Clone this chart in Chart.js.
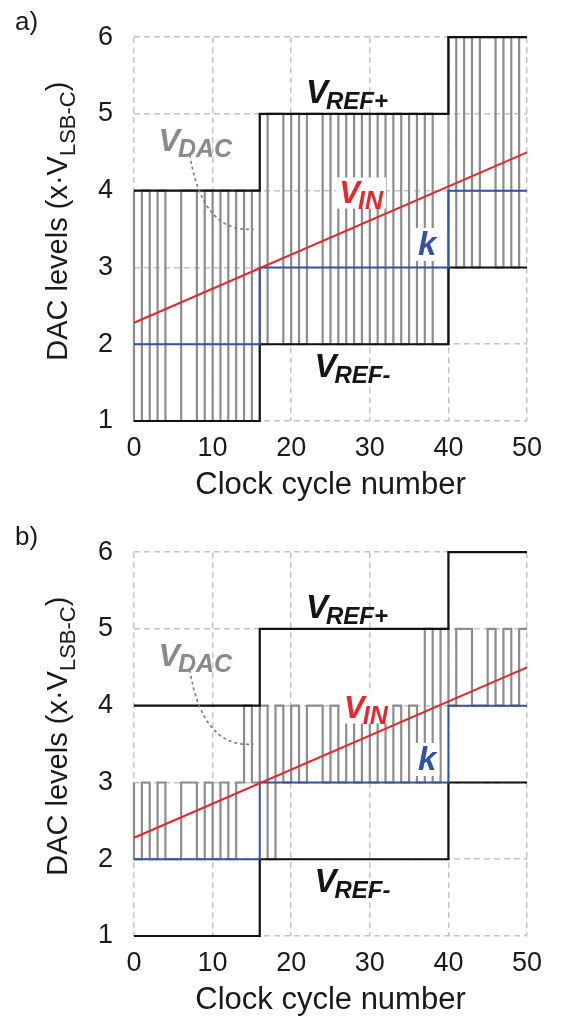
<!DOCTYPE html>
<html>
<head>
<meta charset="utf-8">
<script src="https://cdn.jsdelivr.net/npm/chart.js@4.4.1/dist/chart.umd.min.js"></script>
<style>
  body { margin: 0; background: #fff; overflow: hidden; }
  .panel { position: absolute; left: 0; width: 564px; height: 508px; }
</style>
</head>
<body>
<div class="panel" style="top:0"><canvas id="chartA" width="564" height="508"></canvas></div>
<div class="panel" style="top:515px"><canvas id="chartB" width="564" height="508"></canvas></div>
<script>
// Clock cycles where the reference window moves, and the window levels
const segmentStarts = [0, 16, 40];
const lastCycle = 50;
const refPlusLevels = [4, 5, 6];
const refMinusLevels = [1, 2, 3];
const kLevels = [2, 3, 4];

// Input ramp end points
const vinCycles = [0, 50];
const vinLevels = [2.28, 4.5];

// DAC output after each clock edge 0..50 (index 0 = level before the first edge)
const vdacA = [4, 1, 4, 1, 4, 1, 1, 4, 4, 1, 4, 1, 4, 1, 4, 1, 4,
               2, 5, 5, 2, 5, 2, 5, 5, 2, 5, 2, 5, 2, 5, 2, 5, 2, 5, 2, 5, 2, 5, 2, 2,
               6, 3, 6, 3, 6, 6, 3, 6, 3, 6];
const vdacB = [3, 2, 3, 2, 3, 2, 2, 3, 3, 2, 3, 2, 3, 2, 3, 4, 3,
               4, 2, 4, 3, 4, 3, 4, 4, 3, 4, 3, 4, 3, 4, 3, 4, 3, 4, 3, 4, 3, 5, 3, 5,
               4, 5, 5, 4, 4, 5, 4, 5, 4, 5];

const xTicks = [0, 10, 20, 30, 40, 50];
const yTicks = [1, 2, 3, 4, 5, 6];

const FONT = 'Arial, "Liberation Sans", sans-serif';
const GRAY = "#8c8c8c";
const RED = "#e8262b";
const BLUE = "#3452a4";

// Build points of a staircase from the segment levels
function stairPoints(levels) {
    const pts = segmentStarts.map(function(s, i) { return { x: s, y: levels[i] }; });
    pts.push({ x: lastCycle, y: levels[levels.length - 1] });
    return pts;
}

// Draw a label like V with a subscript, centered at a data position
function drawSubLabel(chart, xv, yv, main, sub, color, mainPx, subPx, bg) {
    const ctx = chart.ctx;
    const cx = chart.scales.x.getPixelForValue(xv);
    const cy = chart.scales.y.getPixelForValue(yv);
    const mainFont = "italic bold " + mainPx + "px " + FONT;
    const subFont = "italic bold " + subPx + "px " + FONT;
    ctx.save();
    ctx.font = mainFont;
    const wMain = ctx.measureText(main).width;
    ctx.font = subFont;
    const wSub = sub ? ctx.measureText(sub).width : 0;
    const total = wMain + wSub - (sub ? 2 : 0);
    const x0 = cx - total / 2;
    const base = cy + mainPx * 0.33;
    if (bg) {
        ctx.fillStyle = "#fff";
        ctx.fillRect(x0 - 3, cy - mainPx * 0.5, total + 6, mainPx * 1.0);
    }
    ctx.fillStyle = color;
    ctx.textBaseline = "alphabetic";
    ctx.textAlign = "left";
    ctx.font = mainFont;
    ctx.fillText(main, x0, base);
    if (sub) {
        ctx.font = subFont;
        ctx.fillText(sub, x0 + wMain - 2, base + mainPx * 0.2);
    }
    ctx.restore();
}

const annotations = {
    id: "annotations",
    afterDatasetsDraw(chart, args, opts) {
        const ctx = chart.ctx;
        const xs = chart.scales.x, ys = chart.scales.y;
        const p = function(x, y) { return [xs.getPixelForValue(x), ys.getPixelForValue(y)]; };

        // dashed pointer from the V_DAC label to the waveform
        const a = p(7.1, 4.47), c = p(8.7, 3.44), b = p(15.2, 3.5);
        ctx.save();
        ctx.strokeStyle = "#7a7a7a";
        ctx.lineWidth = 1.6;
        ctx.setLineDash([3, 3]);
        ctx.beginPath();
        ctx.moveTo(a[0], a[1]);
        ctx.quadraticCurveTo(c[0], c[1], b[0], b[1]);
        ctx.stroke();
        ctx.restore();

        drawSubLabel(chart, 7.8, 4.66, "V", "DAC", "#8a8a8a", 32, 25, false);
        drawSubLabel(chart, 27.1, 5.29, "V", "REF+", "#151515", 33, 24, false);
        drawSubLabel(chart, 27.8, 1.72, "V", "REF-", "#151515", 33, 24, false);
        drawSubLabel(chart, opts.vinX, 3.97, "V", "IN", RED, 31, 25, true);
        drawSubLabel(chart, 37.3, 3.30, "k", "", BLUE, 33, 0, true);
    },
    afterDraw(chart, args, opts) {
        const ctx = chart.ctx;
        ctx.save();
        // panel letter
        ctx.fillStyle = "#1a1a1a";
        ctx.font = "26px " + FONT;
        ctx.textBaseline = "alphabetic";
        ctx.fillText(opts.panel, 15, 30);

        // y axis title with subscript, rotated
        const mainFont = "29px " + FONT, subFont = "22px " + FONT;
        const t1 = "DAC levels (x\u00B7V", t2 = "LSB-C", t3 = ")";
        ctx.font = mainFont;
        const w1 = ctx.measureText(t1).width, w3 = ctx.measureText(t3).width;
        ctx.font = subFont;
        const w2 = ctx.measureText(t2).width;
        const total = w1 + w2 + w3;
        ctx.translate(67, chart.chartArea.top + 184);
        ctx.rotate(-Math.PI / 2);
        let x = -total / 2;
        ctx.font = mainFont;
        ctx.fillText(t1, x, 0);
        x += w1;
        ctx.font = subFont;
        ctx.fillText(t2, x, 8);
        x += w2;
        ctx.font = mainFont;
        ctx.fillText(t3, x, 0);
        ctx.restore();
    }
};

function makeChart(canvasId, vdac, panel, vinX) {
    const ctx = document.getElementById(canvasId).getContext("2d");
    const lineBase = { pointRadius: 0, fill: false, clip: false, borderCapStyle: "butt", borderJoinStyle: "miter" };
    return new Chart(ctx, {
        type: "line",
        data: {
            datasets: [
                Object.assign({ label: "VIN", data: vinCycles.map(function(c, i) { return { x: c, y: vinLevels[i] }; }),
                    borderColor: RED, borderWidth: 2 }, lineBase),
                Object.assign({ label: "k", data: stairPoints(kLevels), stepped: true,
                    borderColor: BLUE, borderWidth: 2 }, lineBase),
                Object.assign({ label: "VREF+", data: stairPoints(refPlusLevels), stepped: true,
                    borderColor: "#111", borderWidth: 2.2 }, lineBase),
                Object.assign({ label: "VREF-", data: stairPoints(refMinusLevels), stepped: true,
                    borderColor: "#111", borderWidth: 2.2 }, lineBase),
                Object.assign({ label: "VDAC", data: vdac.map(function(v, i) { return { x: i, y: v }; }), stepped: "after",
                    borderColor: GRAY, borderWidth: 2.2 }, lineBase)
            ]
        },
        options: {
            responsive: false,
            animation: false,
            events: [],
            layout: { padding: { top: 28, right: 37, left: 0, bottom: 0 } },
            plugins: {
                legend: { display: false },
                tooltip: { enabled: false },
                annotations: { panel: panel, vinX: vinX }
            },
            scales: {
                x: {
                    type: "linear",
                    min: 0, max: 50,
                    afterBuildTicks: function(scale) { scale.ticks = xTicks.map(function(v) { return { value: v }; }); },
                    afterFit: function(scale) { scale.height = 508 - 421; },
                    grid: { color: "#c4c4c4", lineWidth: 1.5, drawTicks: false },
                    border: { display: false, dash: [6, 4] },
                    ticks: { color: "#1a1a1a", font: { size: 27, family: FONT }, padding: 11, maxRotation: 0 },
                    title: { display: true, text: "Clock cycle number", color: "#1a1a1a",
                        font: { size: 31, family: FONT }, padding: { top: 0, bottom: 4 } }
                },
                y: {
                    type: "linear",
                    min: 1, max: 6,
                    afterBuildTicks: function(scale) { scale.ticks = yTicks.map(function(v) { return { value: v }; }); },
                    afterFit: function(scale) { scale.width = 134; },
                    grid: { color: "#c4c4c4", lineWidth: 1.5, drawTicks: false },
                    border: { display: false, dash: [6, 4] },
                    ticks: { color: "#1a1a1a", font: { size: 27, family: FONT }, padding: 21 }
                }
            }
        },
        plugins: [annotations]
    });
}

// dashed grid for both panels
Chart.defaults.scale.grid.borderDash = [6, 4];
Chart.defaults.scales.linear.border = { dash: [6, 4] };

makeChart("chartA", vdacA, "a)", 28.9);
makeChart("chartB", vdacB, "b)", 29.5);
</script>
</body>
</html>
